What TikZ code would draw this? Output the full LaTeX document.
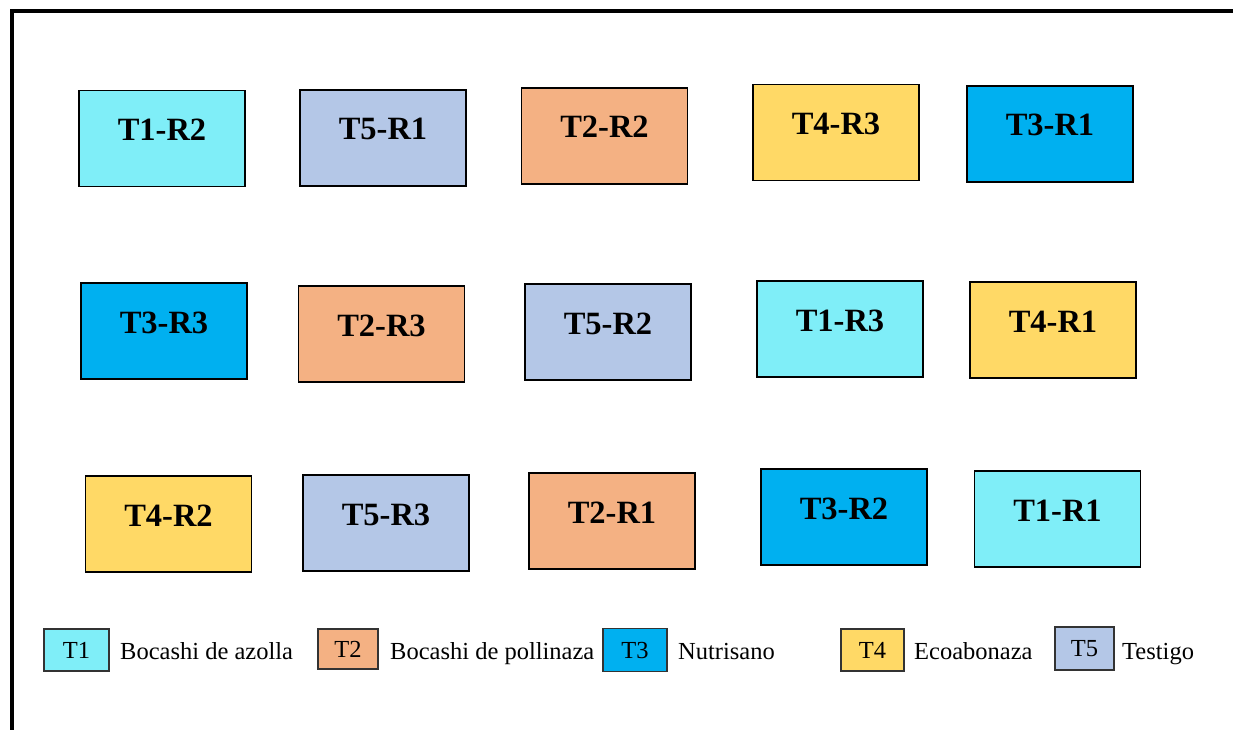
\documentclass[tikz,border=0pt]{standalone}
\usepackage{fontspec}
\setmainfont{Liberation Serif}
\definecolor{cT1}{HTML}{7FEEF8}
\definecolor{cT2}{HTML}{F4B183}
\definecolor{cT3}{HTML}{00B0F0}
\definecolor{cT4}{HTML}{FFD966}
\definecolor{cT5}{HTML}{B4C7E7}
\tikzset{
  plotbox/.style={draw=black, line width=1.8pt, minimum width=166pt, minimum height=96pt,
    inner sep=0pt, text height=10pt, text depth=6pt,
    font=\fontsize{32.5}{36}\selectfont\bfseries},
  legbox/.style={draw=black!80, line width=1.8pt, inner sep=0pt, text height=16.5pt, text depth=0pt,
    font=\fontsize{24.5}{28}\selectfont},
  legtext/.style={anchor=base west, inner sep=0pt, font=\fontsize{24.5}{28}\selectfont},
}
\begin{document}
\begin{tikzpicture}[x=1pt, y=-1pt]
\useasboundingbox (0,0) rectangle (1233,730);
% frame
\coordinate (fbl) at (12,730);
\coordinate (ftl) at (12,11);
\coordinate (ftr) at (1233,11);
\draw[line width=4.5pt] (fbl) -- (ftl) -- (ftr);
% row 1
\node[plotbox, fill=cT1] (a1) at (162,138.5) {T1-R2};
\node[plotbox, fill=cT5] (a2) at (383,138) {T5-R1};
\node[plotbox, fill=cT2] (a3) at (604.5,136) {T2-R2};
\node[plotbox, fill=cT4] (a4) at (836,132.5) {T4-R3};
\node[plotbox, fill=cT3] (a5) at (1050,134) {T3-R1};
% row 2
\node[plotbox, fill=cT3] (b1) at (164,331) {T3-R3};
\node[plotbox, fill=cT2] (b2) at (381.5,334) {T2-R3};
\node[plotbox, fill=cT5] (b3) at (608,332) {T5-R2};
\node[plotbox, fill=cT1] (b4) at (840,329) {T1-R3};
\node[plotbox, fill=cT4] (b5) at (1053,330) {T4-R1};
% row 3
\node[plotbox, fill=cT4] (c1) at (168.5,524) {T4-R2};
\node[plotbox, fill=cT5] (c2) at (386,523) {T5-R3};
\node[plotbox, fill=cT2] (c3) at (612,521) {T2-R1};
\node[plotbox, fill=cT3] (c4) at (844,517) {T3-R2};
\node[plotbox, fill=cT1] (c5) at (1057.5,519) {T1-R1};
% legend
\node[legbox, fill=cT1, minimum width=65pt, minimum height=42pt] (l1) at (76.5,650) {T1};
\node[legtext] (t1) at (120,659) {Bocashi de azolla};
\node[legbox, fill=cT2, minimum width=60pt, minimum height=40pt] (l2) at (348,649) {T2};
\node[legtext] (t2) at (390,659) {Bocashi de pollinaza};
\node[legbox, fill=cT3, minimum width=64pt, minimum height=43pt] (l3) at (635,650) {T3};
\node[legtext] (t3) at (678,659) {Nutrisano};
\node[legbox, fill=cT4, minimum width=63pt, minimum height=42pt] (l4) at (872.5,650) {T4};
\node[legtext] (t4) at (914,659) {Ecoabonaza};
\node[legbox, fill=cT5, minimum width=59pt, minimum height=43pt] (l5) at (1084.5,648.5) {T5};
\node[legtext] (t5) at (1122,659) {Testigo};
\end{tikzpicture}
\end{document}
